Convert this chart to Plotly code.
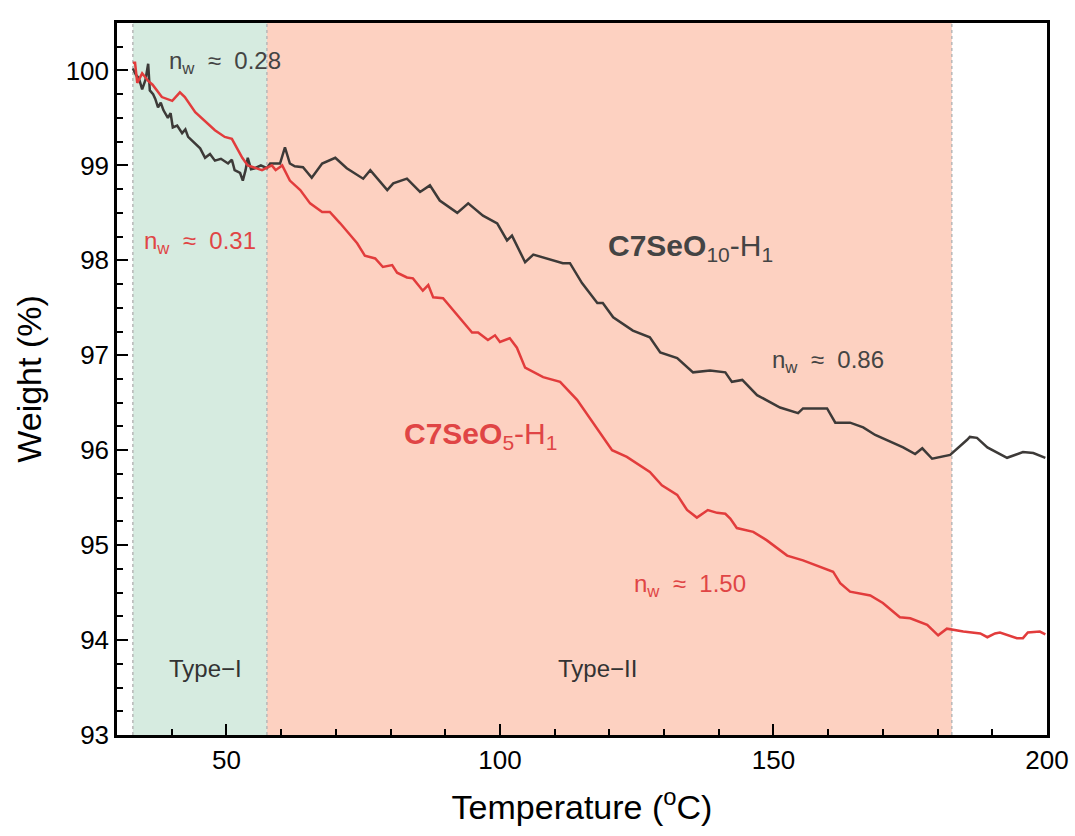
import plotly.graph_objects as go

# ---- data ----
temp_c10 = [32.9, 33.5, 34.0, 34.6, 35.2, 35.7, 36.0, 36.6, 37.0, 37.5, 38.0, 38.5, 39.3, 39.8, 40.2,
            41.0, 41.9, 42.5, 43.0, 43.6, 44.3, 45.2, 46.1, 47.0, 47.9, 49.0, 50.3, 51.0, 51.5, 52.5,
            53.0, 53.5, 53.9, 54.5, 55.2, 56.3, 57.4, 58.0, 59.8, 60.7, 61.6, 62.5, 64.0, 65.6, 67.5,
            69.9, 72.0, 75.0, 76.3, 79.4, 80.5, 83.0, 85.4, 87.2, 89.0, 92.2, 94.2, 96.9, 99.5, 101.3,
            102.2, 104.6, 106.1, 111.5, 112.8, 115.0, 117.8, 118.8, 120.7, 124.3, 127.4, 129.3, 132.4,
            135.3, 138.4, 141.2, 142.4, 144.3, 147.0, 151.2, 154.5, 155.4, 159.8, 161.3, 164.0, 166.4,
            168.6, 172.8, 173.7, 175.9, 177.2, 179.0, 182.3, 185.4, 185.9, 187.2, 189.1, 192.7, 195.6,
            197.5, 199.7]
weight_c10 = [100.02, 99.95, 99.92, 99.80, 99.90, 100.07, 99.79, 99.75, 99.70, 99.61, 99.66, 99.58, 99.50, 99.55, 99.40,
              99.42, 99.34, 99.38, 99.30, 99.27, 99.23, 99.18, 99.08, 99.12, 99.05, 99.07, 99.02, 99.06, 98.95, 98.92,
              98.84, 98.95, 99.08, 98.96, 98.97, 99.00, 98.97, 99.02, 99.02, 99.19, 99.02, 98.99, 98.98, 98.87, 99.02,
              99.08, 98.97, 98.86, 98.95, 98.74, 98.81, 98.86, 98.72, 98.79, 98.63, 98.50, 98.60, 98.47, 98.39, 98.21,
              98.26, 97.98, 98.06, 97.97, 97.97, 97.76, 97.55, 97.55, 97.40, 97.26, 97.19, 97.03, 96.97,
              96.82, 96.84, 96.82, 96.72, 96.74, 96.58, 96.45, 96.39, 96.44, 96.44, 96.29, 96.29, 96.24,
              96.16, 96.05, 96.03, 95.96, 96.02, 95.91, 95.95, 96.11, 96.14, 96.13, 96.03, 95.92, 95.98,
              95.97, 95.92]

temp_c5 = [32.9, 33.3, 33.7, 34.6, 35.7, 36.5, 38.2, 40.1, 41.5, 42.4, 44.3, 46.6, 47.9, 49.7, 51.0,
           52.9, 53.9, 56.5, 58.3, 59.0, 60.2, 61.6, 63.5, 65.3, 67.5, 68.9, 70.8, 73.9, 75.3, 77.2,
           78.6, 80.3, 81.2, 83.0, 84.1, 85.9, 86.9, 87.8, 89.6, 94.9, 96.0, 97.8, 99.1, 100.0, 101.8,
           103.1, 104.6, 107.9, 111.0, 114.1, 117.8, 120.5, 123.2, 127.4, 129.6, 132.4, 134.2, 136.0,
           138.0, 139.7, 141.2, 142.1, 143.3, 146.3, 148.8, 152.5, 155.4, 158.5, 160.9, 162.2, 164.0,
           167.7, 170.0, 173.1, 175.0, 178.1, 180.1, 181.7, 184.7, 187.8, 189.1, 190.5, 191.4, 194.5,
           195.6, 196.5, 198.7, 199.7]
weight_c5 = [100.08, 100.08, 99.87, 99.97, 99.89, 99.85, 99.72, 99.68, 99.77, 99.72, 99.56, 99.44, 99.37, 99.30, 99.28,
             99.08, 99.00, 98.95, 99.00, 98.95, 99.00, 98.84, 98.74, 98.60, 98.51, 98.51, 98.39, 98.18, 98.05, 98.02,
             97.93, 97.95, 97.87, 97.82, 97.81, 97.68, 97.74, 97.61, 97.60, 97.24, 97.24, 97.16, 97.21, 97.14, 97.18,
             97.08, 96.87, 96.77, 96.72, 96.53, 96.23, 96.00, 95.93, 95.77, 95.63, 95.53, 95.37, 95.29,
             95.37, 95.34, 95.33, 95.28, 95.18, 95.14, 95.05, 94.89, 94.84, 94.77, 94.72, 94.60, 94.51,
             94.47, 94.39, 94.24, 94.23, 94.16, 94.05, 94.12, 94.09, 94.07, 94.03, 94.07, 94.08, 94.02,
             94.02, 94.08, 94.09, 94.06]

region_bounds = [32.9, 57.4, 182.6]
region_names = ["Type\u2212I", "Type\u2212II"]
region_label_x = [46.1, 117.9]
region_colors = ["#d6ebe0", "#fdd1c1"]

x_range = [30, 200]
y_range = [93, 100.5]
x_ticks = [50, 100, 150, 200]
y_ticks = [93, 94, 95, 96, 97, 98, 99, 100]

GREY = "#444444"
RED = "#e04545"
FONT = "Liberation Sans, Arial, sans-serif"

fig = go.Figure()

# shaded regions
for i, name in enumerate(region_names):
    fig.add_shape(type="rect", xref="x", yref="y",
                  x0=region_bounds[i], x1=region_bounds[i + 1], y0=y_range[0], y1=y_range[1],
                  fillcolor=region_colors[i], line=dict(width=0), layer="below")
for xb in region_bounds:
    fig.add_shape(type="line", xref="x", yref="y", x0=xb, x1=xb, y0=y_range[0], y1=y_range[1],
                  line=dict(color="#b8b8b8", width=1.5, dash="dot"), layer="below")

fig.add_trace(go.Scatter(x=temp_c10, y=weight_c10, mode="lines",
                         line=dict(color="#3d3a38", width=2.5), showlegend=False))
fig.add_trace(go.Scatter(x=temp_c5, y=weight_c5, mode="lines",
                         line=dict(color="#e23c3c", width=2.5), showlegend=False))

def ann(x, y, text, color, size=24):
    fig.add_annotation(x=x, y=y, xref="x", yref="y", text=text, showarrow=False,
                       font=dict(family=FONT, size=size, color=color))

SP = "\u00a0\u00a0"
def nw(val):
    return "n<sub>w</sub>" + SP + "\u2248" + SP + val

ann(49.7, 100.08, nw("0.28"), GREY)
ann(45.2, 98.19, nw("0.31"), RED)
ann(134.8, 98.13, "<b>C7SeO</b><sub>10</sub>-H<sub>1</sub>", GREY, 30)
ann(160.0, 96.93, nw("0.86"), GREY)
ann(96.4, 96.16, "<b>C7SeO</b><sub>5</sub>-H<sub>1</sub>", RED, 30)
ann(134.8, 94.58, nw("1.50"), RED)
for i, name in enumerate(region_names):
    ann(region_label_x[i], 93.7, name, "#333333", 24)

axis_common = dict(showline=True, linecolor="black", linewidth=2.5, mirror=True,
                   ticks="inside", ticklen=11, tickwidth=2, tickcolor="black",
                   showgrid=False, zeroline=False,
                   tickfont=dict(family=FONT, size=26, color="black"))

fig.update_xaxes(range=x_range, tickvals=x_ticks, **axis_common,
                 minor=dict(dtick=10, tick0=0, ticks="inside", ticklen=6, tickwidth=2, tickcolor="black"),
                 title=dict(text="Temperature (<sup>o</sup>C)", standoff=22,
                            font=dict(family=FONT, size=34, color="black")))
fig.update_yaxes(range=y_range, tickvals=y_ticks, **axis_common,
                 minor=dict(dtick=0.25, tick0=93, ticks="inside", ticklen=6, tickwidth=2, tickcolor="black"),
                 title=dict(text="Weight (%)", standoff=14,
                            font=dict(family=FONT, size=34, color="black")))

fig.update_layout(width=1075, height=836, plot_bgcolor="white", paper_bgcolor="white",
                  margin=dict(l=117, r=28, t=23, b=101, autoexpand=False),
                  font=dict(family=FONT))

fig.write_html("out.html")
